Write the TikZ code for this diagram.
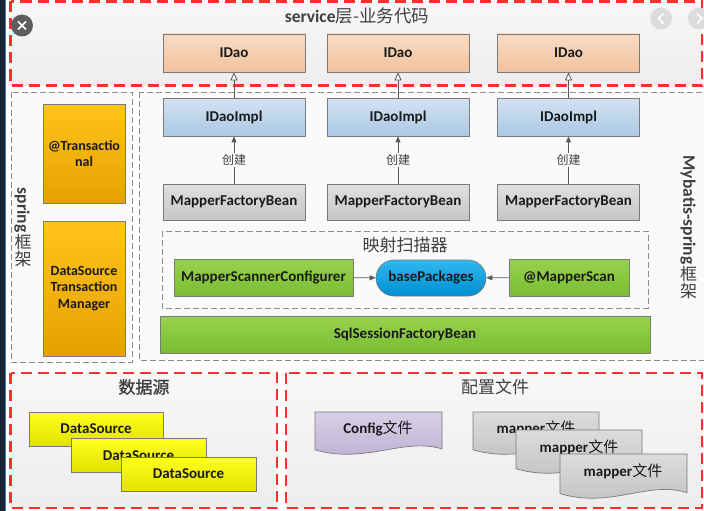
\documentclass[tikz,border=0pt]{standalone}
\usepackage{fontspec}
\setmainfont{Carlito}
\newfontfamily\cjk{Noto Sans CJK SC}
\newfontfamily\cjkb[FakeBold=1.2]{Noto Sans CJK SC}
\usetikzlibrary{arrows.meta,shapes.misc}
\definecolor{redd}{HTML}{FF2E2E}
\definecolor{graydash}{HTML}{8C8C8C}
\definecolor{boxline}{HTML}{7A7A7A}
\definecolor{txt}{HTML}{1A1A1A}
\definecolor{ttl}{HTML}{3F3F3F}
\definecolor{idaoT}{HTML}{F9DBC2}
\definecolor{idaoB}{HTML}{F2C29E}
\definecolor{implT}{HTML}{D2E3F2}
\definecolor{implB}{HTML}{ABC8E4}
\definecolor{mfbT}{HTML}{E0E0E0}
\definecolor{mfbB}{HTML}{C6C6C6}
\definecolor{greenT}{HTML}{98D24E}
\definecolor{greenB}{HTML}{7ABD34}
\definecolor{orangeT}{HTML}{FFC41A}
\definecolor{orangeB}{HTML}{E6A000}
\definecolor{yellowT}{HTML}{FFFF20}
\definecolor{yellowB}{HTML}{E2E200}
\definecolor{bpT}{HTML}{30B8EE}
\definecolor{bpB}{HTML}{008ED2}
\definecolor{cfgT}{HTML}{D8CFE6}
\definecolor{cfgB}{HTML}{BBAED1}
\definecolor{mapT}{HTML}{DCDCDC}
\definecolor{mapB}{HTML}{C0C0C0}
\definecolor{arrc}{HTML}{595959}
\definecolor{panelbg}{HTML}{FAFAFA}
\definecolor{darkstrip}{HTML}{1C2333}
\definecolor{bluestrip}{HTML}{4A78C8}
\definecolor{closegray}{HTML}{5E5E5E}
\definecolor{navgray}{HTML}{DCDCDC}
\newcommand\mydocshape[5]{%
  \pgfmathsetmacro\dxb{#2+#4}%
  \shade[#1] ({#2},{#3}) -- ({\dxb},{#3}) -- ({\dxb},{#3+0.86*#5})
    .. controls ({\dxb-0.3*#4},{#3+0.58*#5}) and ({#2+0.4*#4},{#3+1.22*#5}) .. ({#2},{#3+0.88*#5}) -- cycle;
}
\tikzset{
  redbox/.style={draw=redd, line width=2.4pt, dash pattern=on 11pt off 6pt, top color=white!97!black, bottom color=white!93!black},
  graybox/.style={draw=graydash, line width=0.9pt, dash pattern=on 6pt off 3pt, fill=panelbg},
  box/.style={draw=boxline, line width=0.7pt, inner sep=0pt, align=center, text=txt,
     font=\bfseries\fontsize{15}{17}\selectfont},
  idaobox/.style={box, minimum width=142pt, minimum height=38pt, top color=idaoT, bottom color=idaoB},
  implbox/.style={box, minimum width=142pt, minimum height=38pt, top color=implT, bottom color=implB},
  mfbbox/.style={box, minimum width=142pt, minimum height=36pt, top color=mfbT, bottom color=mfbB},
  orangebox/.style={box, minimum width=82pt, top color=orangeT, bottom color=orangeB,
     font=\bfseries\fontsize{14}{16.5}\selectfont},
  greenbox/.style={box, minimum height=37pt, top color=greenT, bottom color=greenB},
  bpbox/.style={box, rounded rectangle, minimum width=110pt, minimum height=36pt, top color=bpT, bottom color=bpB, draw=boxline},
  dsbox/.style={box, minimum width=135pt, minimum height=34pt, top color=yellowT, bottom color=yellowB},
  doctext/.style={text=txt, inner sep=0pt, font=\fontsize{15}{17}\selectfont},
  titletext/.style={text=ttl, inner sep=0pt},
  vlatin/.style={titletext, rotate=-90, font=\bfseries\fontsize{17.5}{18}\selectfont},
  vcjk/.style={titletext, font=\cjk\fontsize{17}{18}\selectfont},
  inh/.style={draw=arrc, line width=0.8pt, -{Triangle[length=8pt,width=7pt,fill=white]}},
  cre/.style={draw=arrc, line width=0.8pt, -{Triangle[length=6pt,width=5pt]}},
  crelbl/.style={fill=panelbg, inner sep=1.5pt, text=ttl, font=\cjk\fontsize{12}{12}\selectfont},
}
\begin{document}
\begin{tikzpicture}[x=1pt,y=-1pt]
\useasboundingbox (0,0) rectangle (704,511);
\fill[white] (0,0) rectangle (704,511);
% left screen strip
\fill[darkstrip] (0,0) rectangle (4.6,511);
\draw[bluestrip, line width=0.8pt] (5.2,0) -- (5.2,511);
% containers
\path[redbox] (10.5,1.5) rectangle (702,85.5);
\path[graybox] (11,92) rectangle (132,362);
\path[graybox] (139,92) rectangle (706,360);
\path[graybox] (162,231) rectangle (648,308);
\path[redbox] (10.5,373) rectangle (277,508);
\path[redbox] (286,373) rectangle (702,508);
% titles
\node[titletext, font=\fontsize{17.5}{19}\selectfont] (ttlsvc) at (357,16) {{\bfseries service}{\cjk 层-业务代码}};
\node[titletext, font=\cjk\fontsize{17}{18}\selectfont] (ttlscan) at (405,245) {映射扫描器};
\node[titletext, font=\cjkb\fontsize{17}{18}\selectfont] (ttlds) at (144,387) {数据源};
\node[titletext, font=\cjk\fontsize{17}{18}\selectfont] (ttlcfg) at (495,387) {配置文件};
\node[vlatin] (spr1) at (22,210) {spring};
\node[vcjk] (spr2) at (23,241.5) {框};
\node[vcjk] (spr3) at (23,259.5) {架};
\node[vlatin] (myb1) at (688,210) {Mybatis-spring};
\node[vcjk] (myb2) at (688.5,274) {框};
\node[vcjk] (myb3) at (688.5,291) {架};
% service layer
\node[idaobox] (idao1) at (234,53) {IDao};
\node[idaobox] (idao2) at (398,53) {IDao};
\node[idaobox] (idao3) at (568.5,53) {IDao};
\node[implbox] (impl1) at (234,117) {IDaoImpl};
\node[implbox] (impl2) at (398,117) {IDaoImpl};
\node[implbox] (impl3) at (568.5,117) {IDaoImpl};
\node[mfbbox] (mfb1) at (234,202) {MapperFactoryBean};
\node[mfbbox] (mfb2) at (398,202) {MapperFactoryBean};
\node[mfbbox] (mfb3) at (568.5,202) {MapperFactoryBean};
\draw[inh] (impl1) -- (idao1);
\draw[inh] (impl2) -- (idao2);
\draw[inh] (impl3) -- (idao3);
\draw[cre] (mfb1) -- node[crelbl] (c1) {创建} (impl1);
\draw[cre] (mfb2) -- node[crelbl] (c2) {创建} (impl2);
\draw[cre] (mfb3) -- node[crelbl] (c3) {创建} (impl3);
% spring
\node[orangebox, minimum height=99pt] (trans) at (84,153.5) {@Transactio\\nal};
\node[orangebox, minimum height=135pt] (dstm) at (84,288.5) {DataSource\\Transaction\\Manager};
% scanner
\node[greenbox, minimum width=179pt] (msc) at (263.5,277.5) {MapperScannerConfigurer};
\node[bpbox] (bp) at (431,278) {basePackages};
\node[greenbox, minimum width=120pt] (ms) at (569,277.5) {@MapperScan};
\draw[cre] (msc) -- (bp);
\draw[cre] (ms) -- (bp);
\node[greenbox, minimum width=490pt] (ssfb) at (405,334.5) {SqlSessionFactoryBean};
% data sources
\node[dsbox, minimum width=134pt] (ds1) at (96,429) {DataSource};
\node[dsbox] (ds2) at (138.5,455.5) {DataSource};
\node[dsbox] (ds3) at (188.5,474) {DataSource};
% config files
\mydocshape{draw=boxline, line width=0.7pt, top color=cfgT, bottom color=cfgB}{315}{412}{127}{43}
\node[doctext] (cfgt) at (378,428) {{\bfseries Config}{\cjk 文件}};
\mydocshape{draw=boxline, line width=0.7pt, top color=mapT, bottom color=mapB}{473}{412}{126}{43}
\node[doctext] (map1t) at (536,428) {{\bfseries mapper}{\cjk 文件}};
\mydocshape{draw=boxline, line width=0.7pt, top color=mapT, bottom color=mapB}{516}{430}{126}{44}
\node[doctext] (map2t) at (579,447) {{\bfseries mapper}{\cjk 文件}};
\mydocshape{draw=boxline, line width=0.7pt, top color=mapT, bottom color=mapB}{560}{454}{127}{45}
\node[doctext] (map3t) at (623,471) {{\bfseries mapper}{\cjk 文件}};
% screen overlay buttons
\fill[closegray] (22,25.5) circle (11);
\draw[white, line width=1.6pt] (18,21.5) -- (26,29.5) (26,21.5) -- (18,29.5);
\fill[navgray] (661,18.5) circle (11);
\draw[white, line width=1.6pt] (663.5,13.5) -- (658.5,18.5) -- (663.5,23.5);
\fill[navgray] (699,18.5) circle (11);
\draw[white, line width=1.6pt] (697,13.5) -- (702,18.5) -- (697,23.5);
\end{tikzpicture}
\end{document}
